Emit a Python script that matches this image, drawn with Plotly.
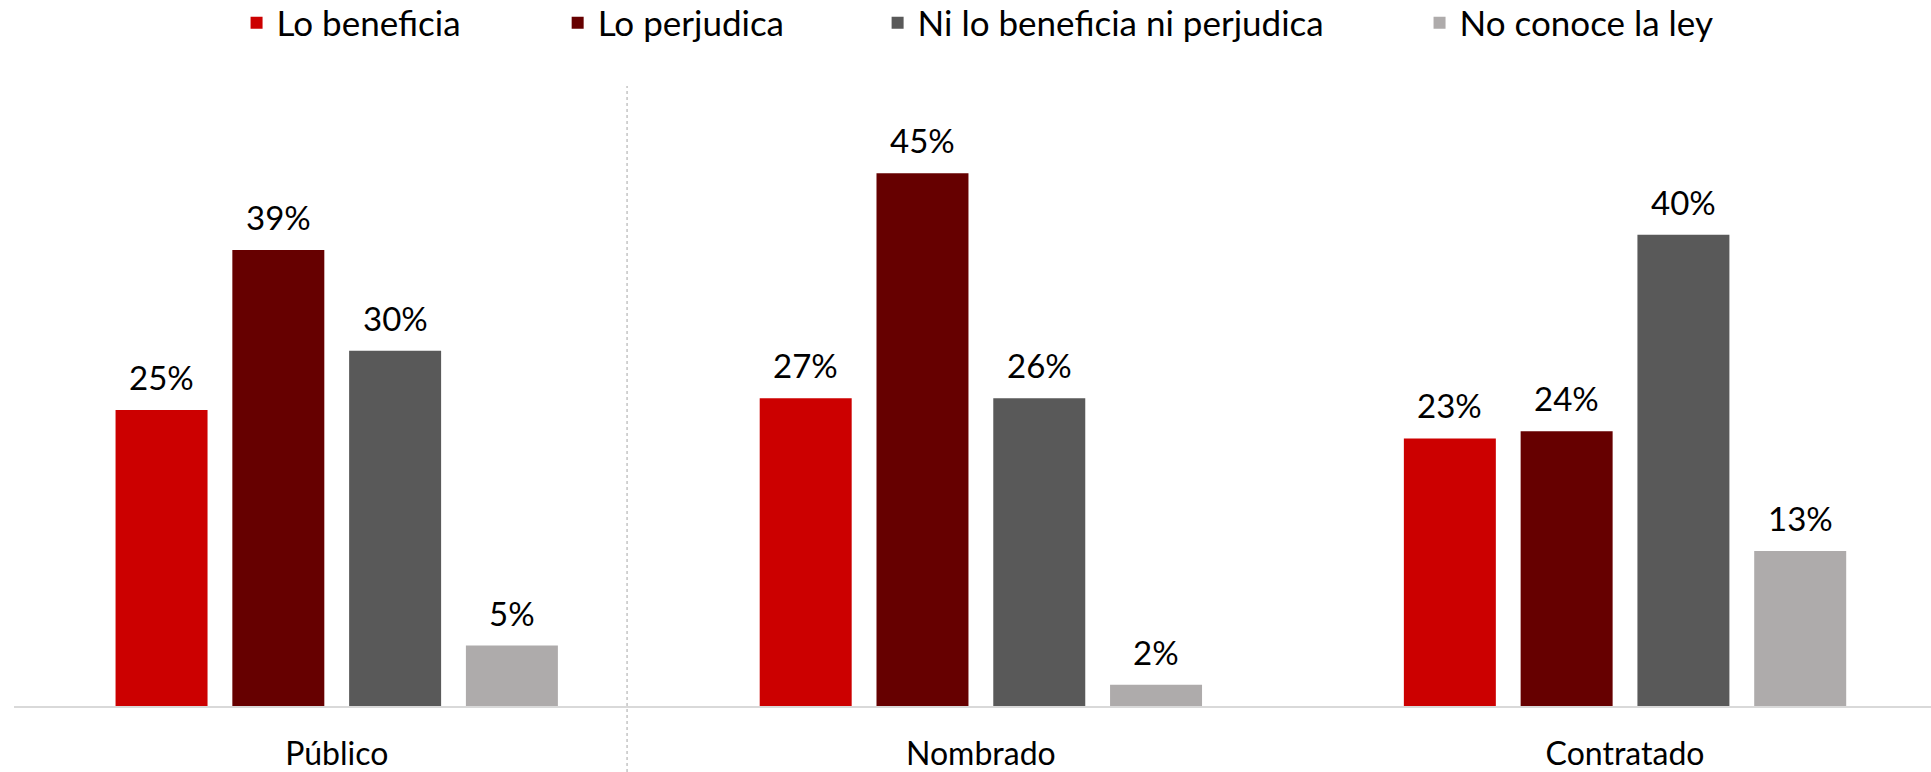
import plotly.graph_objects as go

categories = ["Público", "Nombrado", "Contratado"]
series_names = ["Lo beneficia", "Lo perjudica", "Ni lo beneficia ni perjudica", "No conoce la ley"]
colors = ["#CC0000", "#660000", "#595959", "#AEABAB"]

# bar heights (%), one list per series across categories
lo_beneficia = [25.0, 26.0, 22.6]
lo_perjudica = [38.5, 45.0, 23.2]
ni_lo_uno = [30.0, 26.0, 39.8]
no_conoce = [5.1, 1.8, 13.1]

# data labels as printed on the chart
lbl_beneficia = ["25%", "27%", "23%"]
lbl_perjudica = ["39%", "45%", "24%"]
lbl_ni = ["30%", "26%", "40%"]
lbl_no = ["5%", "2%", "13%"]

values = [lo_beneficia, lo_perjudica, ni_lo_uno, no_conoce]
labels = [lbl_beneficia, lbl_perjudica, lbl_ni, lbl_no]

FONT = "Lato"
FS = 33
TFS = 32
LFS = 35
W, H = 1931, 772
ML, MR, MT, MB = 14, 0, 86, 66
PH = H - MT - MB
bar_w = 0.1428
pitch = 0.1813

fig = go.Figure()
annotations = []
legend_x = [0.1161, 0.2836, 0.4505, 0.7332]
legend_keys = ["legend", "legend2", "legend3", "legend4"]

for j, (name, vals, lbls, col) in enumerate(zip(series_names, values, labels, colors)):
    off = (j - 1.5) * pitch
    xs = [i + off for i in range(len(categories))]
    fig.add_trace(go.Bar(
        x=xs, y=vals, width=bar_w, name=name,
        marker=dict(color=col, line=dict(width=0)),
        legend=legend_keys[j], hoverinfo="skip",
    ))
    for x, v, t in zip(xs, vals, lbls):
        annotations.append(dict(
            x=x, y=v, xref="x", yref="y", text=t, showarrow=False,
            yanchor="bottom", xanchor="center", yshift=11,
            font=dict(family=FONT, size=FS, color="#000000"),
        ))

layout_legends = {}
for k, lx in zip(legend_keys, legend_x):
    layout_legends[k] = dict(
        x=lx, y=1 + (MT - 23) / PH, xanchor="left", yanchor="middle",
        orientation="h", bgcolor="rgba(0,0,0,0)",
        font=dict(family=FONT, size=LFS, color="#000000"),
        itemclick=False, itemdoubleclick=False,
    )

fig.update_layout(
    width=W, height=H,
    margin=dict(l=ML, r=MR, t=MT, b=MB, autoexpand=False),
    paper_bgcolor="white", plot_bgcolor="white",
    barmode="overlay",
    showlegend=True,
    annotations=annotations,
    font=dict(family=FONT, size=FS, color="#000000"),
    shapes=[dict(
        type="line", xref="paper", yref="paper",
        x0=0.3198, x1=0.3198, y0=-MB / PH, y1=1.0,
        line=dict(color="#A6A6A6", width=1, dash="dot"),
    )],
    xaxis=dict(
        range=[-0.501, 2.475],
        tickvals=list(range(len(categories))), ticktext=categories,
        showgrid=False, zeroline=False, automargin=False,
        showline=True, linecolor="#D9D9D9", linewidth=2,
        ticks="", ticklabelstandoff=19,
        tickfont=dict(family=FONT, size=TFS, color="#000000"),
    ),
    yaxis=dict(
        range=[0, 52.36], visible=False, showgrid=False, zeroline=False,
        automargin=False,
    ),
    **layout_legends,
)

fig.write_html(
    "out.html",
    config={"displayModeBar": False},
    post_script="document.body.style.margin='0';document.body.style.overflow='hidden';",
)
